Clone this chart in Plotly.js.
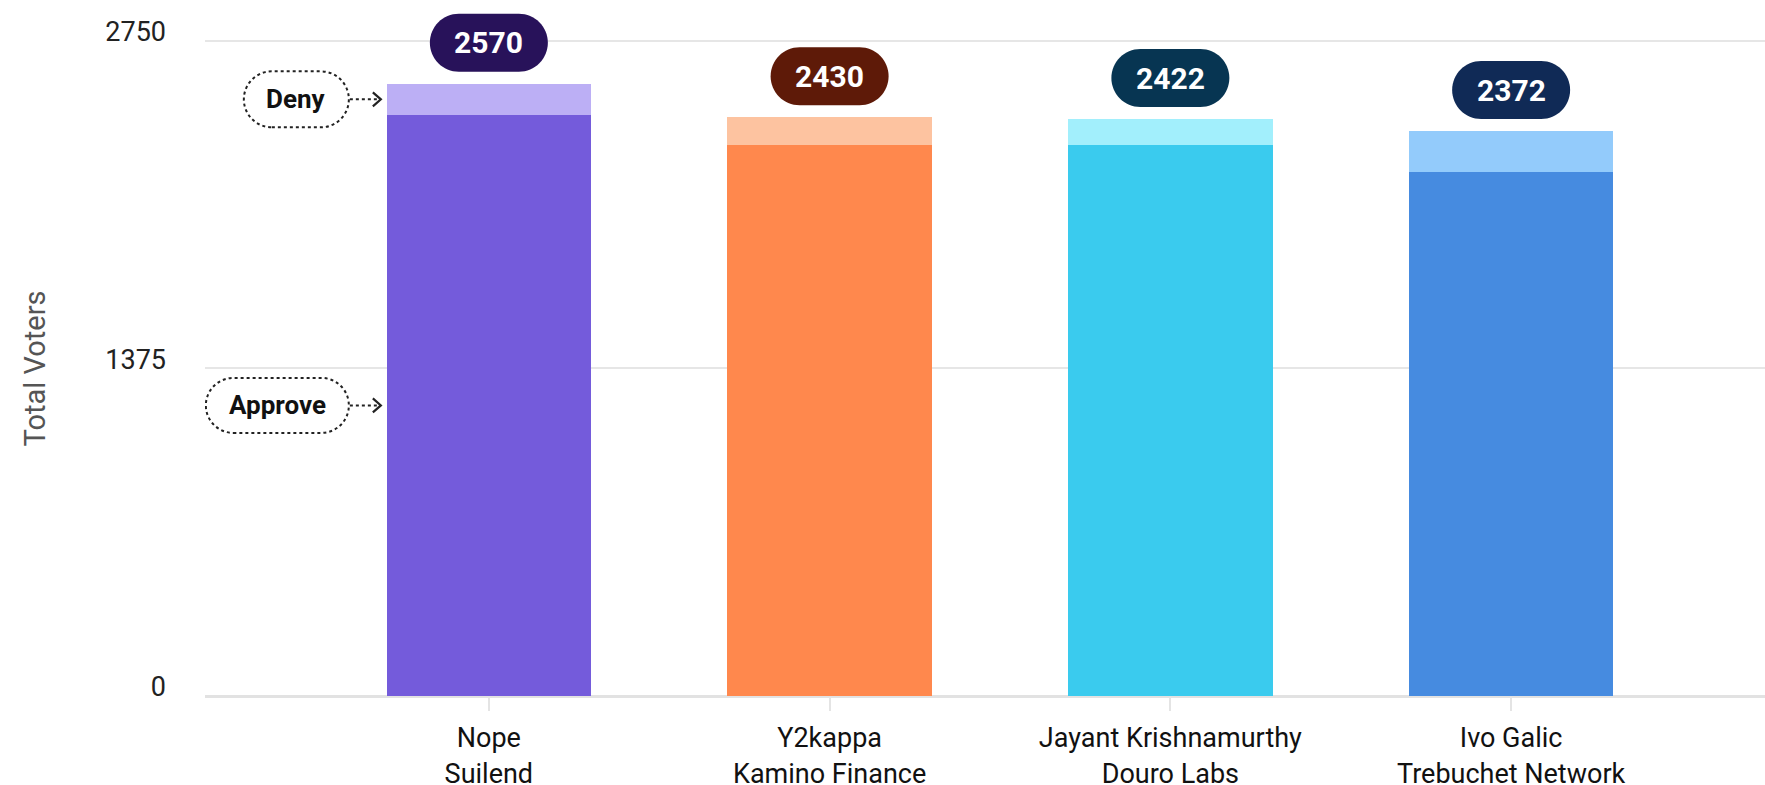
<!DOCTYPE html>
<html><head><meta charset="utf-8">
<script src="https://cdn.plot.ly/plotly-3.0.1.min.js"></script>
<style>html,body{margin:0;padding:0;background:#fff}#chart{width:1765px;height:785px}</style>
</head><body><div id="chart"></div>
<script>
const categories = ["Nope<br>Suilend", "Y2kappa<br>Kamino Finance", "Jayant Krishnamurthy<br>Douro Labs", "Ivo Galic<br>Trebuchet Network"];
const approveVotes = [2440, 2312, 2314, 2200];
const denyVotes = [130, 118, 108, 172];
const totalVoters = [2570, 2430, 2422, 2372];
const yTickVals = [0, 1375, 2750];
const yTickText = ["0", "1375", "2750"];
const yTitle = "Total Voters";
const approveColors = ["#745BDB", "#FF884D", "#3ACBEE", "#468BE0"];
const denyColors = ["#BCAFF5", "#FDC3A0", "#A2EFFC", "#93CBFB"];
const badgeColors = ["#28125A", "#5E1A08", "#073552", "#102A56"];
const FONT = "Roboto, 'Noto Sans', sans-serif";

function pill(cx, cy, w, h) {
  const r = h / 2, k = 0.5523 * r;
  const x0 = cx - w / 2, x1 = cx + w / 2, y0 = cy - h / 2, y1 = cy + h / 2;
  return `M${x0 + r},${y0} L${x1 - r},${y0} C${x1 - r + k},${y0} ${x1},${cy - k} ${x1},${cy} ` +
    `C${x1},${cy + k} ${x1 - r + k},${y1} ${x1 - r},${y1} L${x0 + r},${y1} ` +
    `C${x0 + r - k},${y1} ${x0},${cy + k} ${x0},${cy} C${x0},${cy - k} ${x0 + r - k},${y0} ${x0 + r},${y0} Z`;
}

const traces = [
  {type: 'bar', name: 'Approve', x: categories, y: approveVotes, marker: {color: approveColors, line: {width: 0}}, hoverinfo: 'skip'},
  {type: 'bar', name: 'Deny', x: categories, y: denyVotes, marker: {color: denyColors, line: {width: 0}}, hoverinfo: 'skip'}
];

const shapes = [];
const annotations = [];
totalVoters.forEach((t, i) => {
  shapes.push({type: 'path', xref: 'x', yref: 'y', xsizemode: 'pixel', ysizemode: 'pixel',
    xanchor: i, yanchor: t, path: pill(0, 41, 118, 58), fillcolor: badgeColors[i], line: {width: 0}, layer: 'above'});
  annotations.push({x: i, y: t, xref: 'x', yref: 'y', yshift: 41, showarrow: false, xanchor: 'center', yanchor: 'middle',
    text: '<b>' + t + '</b>', font: {family: FONT, size: 30, color: '#ffffff'}});
});

const legendItems = [
  {label: 'Deny', y: approveVotes[0] + denyVotes[0] / 2, w: 105, h: 56},
  {label: 'Approve', y: approveVotes[0] / 2, w: 143, h: 55}
];
legendItems.forEach(it => {
  const right = -140;
  const cx = right - it.w / 2;
  shapes.push({type: 'path', xref: 'x', yref: 'y', xsizemode: 'pixel', ysizemode: 'pixel', xanchor: 0, yanchor: it.y,
    path: pill(cx, 0, it.w, it.h), fillcolor: 'rgba(0,0,0,0)', line: {color: '#222', width: 2, dash: 'dot'}});
  shapes.push({type: 'path', xref: 'x', yref: 'y', xsizemode: 'pixel', ysizemode: 'pixel', xanchor: 0, yanchor: it.y,
    path: 'M-139,0 L-112,0', line: {color: '#222', width: 2, dash: 'dot'}});
  shapes.push({type: 'path', xref: 'x', yref: 'y', xsizemode: 'pixel', ysizemode: 'pixel', xanchor: 0, yanchor: it.y,
    path: 'M-116,7 L-108,0 L-116,-7', line: {color: '#222', width: 2.2}});
  annotations.push({x: 0, y: it.y, xref: 'x', yref: 'y', xshift: cx, showarrow: false, xanchor: 'center', yanchor: 'middle',
    text: '<b>' + it.label + '</b>', font: {family: FONT, size: 26, color: '#111'}});
});

// y-axis title, centred on the middle tick of the axis
annotations.push({xref: 'paper', x: 0, xshift: -170, yref: 'y', y: yTickVals[1], showarrow: false, textangle: -90,
  xanchor: 'center', yanchor: 'middle', text: yTitle, font: {family: FONT, size: 29, color: '#555'}});

const layout = {
  width: 1765, height: 785,
  margin: {l: 205, r: 0, t: 0, b: 89, pad: 0},
  paper_bgcolor: '#ffffff', plot_bgcolor: '#ffffff',
  barmode: 'stack', bargap: 0.4, showlegend: false, hovermode: false,
  font: {family: FONT, color: '#222'},
  xaxis: {type: 'category', range: [-0.833, 3.745], showgrid: false, zeroline: false, showline: false,
    ticks: 'outside', ticklen: 14, tickwidth: 2, tickcolor: '#e4e4e4',
    tickfont: {family: FONT, size: 27, color: '#111'}, ticklabelstandoff: 4, fixedrange: true},
  yaxis: {range: [0, 2922], tickvals: yTickVals, ticktext: yTickText, showgrid: true, gridcolor: '#e6e6e6', gridwidth: 2,
    zeroline: true, zerolinecolor: '#e2e2e2', zerolinewidth: 3, showline: false, ticks: '',
    tickfont: {family: FONT, size: 27, color: '#222'}, ticklabelstandoff: 38, ticklabelshift: -9,
    automargin: false, fixedrange: true},
  shapes: shapes,
  annotations: annotations
};

Plotly.newPlot('chart', traces, layout, {displayModeBar: false, staticPlot: true});
</script></body></html>
